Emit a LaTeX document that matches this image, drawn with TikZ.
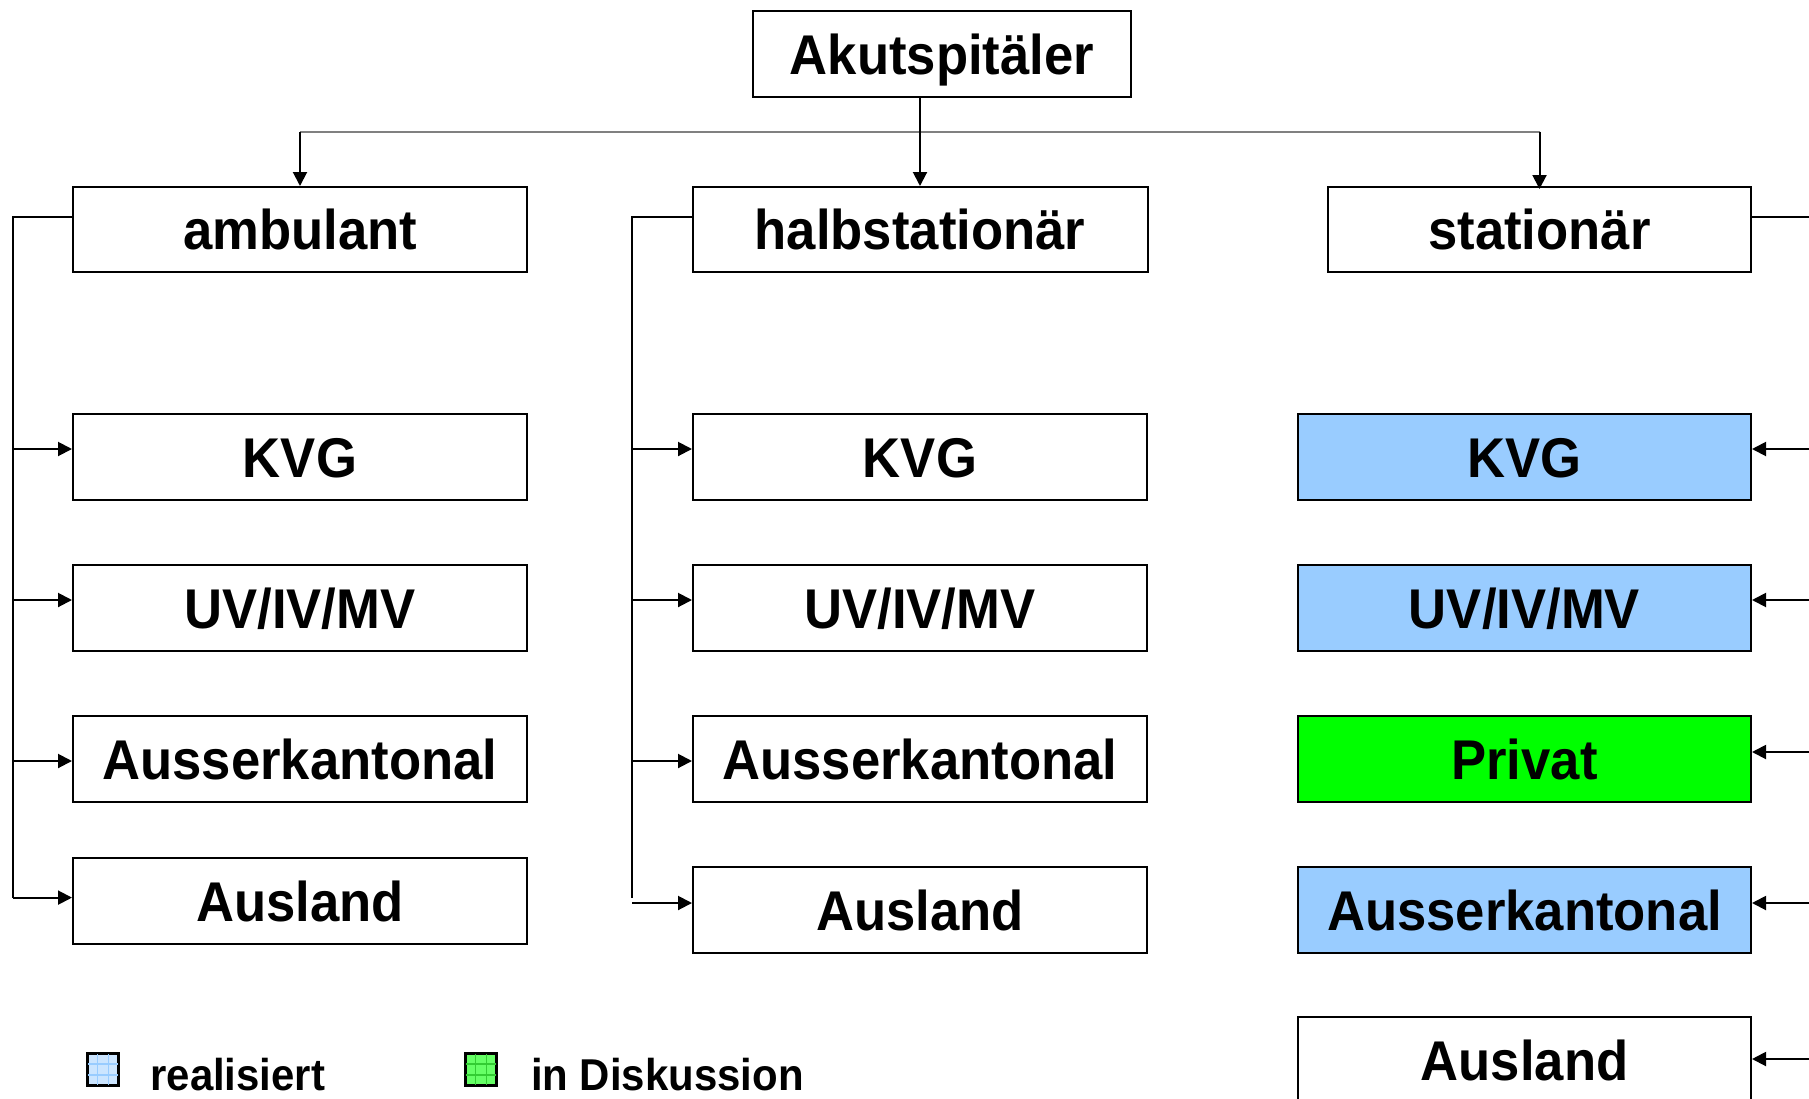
\documentclass[tikz,border=0pt]{standalone}
\usepackage{fontspec}
\newfontfamily\boxfont{Liberation Sans}[FakeStretch=0.94]
\usetikzlibrary{arrows.meta,calc}
\definecolor{realblue}{HTML}{99CCFF}
\definecolor{diskgreen}{HTML}{00FF00}
\definecolor{legblue}{HTML}{CCE5FF}
\definecolor{leggreen}{HTML}{66FF66}
\definecolor{leggreenline}{HTML}{33CC33}
\definecolor{busgray}{HTML}{808080}
\begin{document}
\begin{tikzpicture}[x=0.5pt,y=-0.5pt,
  box/.style={draw=black, line width=1pt, inner sep=0pt, fill=white,
    font=\boxfont\bfseries\fontsize{28}{30}\selectfont,
    text height=20pt, text depth=0pt, align=center},
  headbox/.style={box, minimum height=42.5pt},
  subbox/.style={box, minimum width=227pt, minimum height=43pt},
  statbox/.style={box, minimum width=226.5pt, minimum height=43pt},
  conn/.style={line width=1pt, draw=black},
  arr/.style={conn, -{Triangle[length=7pt,width=7pt]}},
  busline/.style={line width=1pt, draw=busgray},
  legsq/.style={draw=black, line width=1pt, inner sep=0pt, minimum width=15pt, minimum height=15.5pt},
  legtext/.style={inner sep=0pt, font=\boxfont\bfseries\fontsize{22.3}{24}\selectfont}
]
\useasboundingbox (0,0) rectangle (1809,1098);
\clip (0,0) rectangle (1809,1098);

% header boxes
\node[box, minimum width=189pt, minimum height=43pt] (top) at (942,54) {Akutspitäler};
\node[headbox, minimum width=227pt] (amb) at (300,229.5) {ambulant};
\node[headbox, minimum width=227.5pt] (halb) at (920,229.5) {halbstationär};
\node[headbox, minimum width=211.5pt] (stat) at (1539.5,229.5) {stationär};

% ambulant column
\node[subbox] (akvg) at (300,457) {KVG};
\node[subbox] (auv)  at (300,608) {UV/IV/MV};
\node[subbox] (aak)  at (300,759) {Ausserkantonal};
\node[subbox] (aaus) at (300,901) {Ausland};

% halbstationaer column
\node[subbox] (hkvg) at (920,457) {KVG};
\node[subbox] (huv)  at (920,608) {UV/IV/MV};
\node[subbox] (hak)  at (920,759) {Ausserkantonal};
\node[subbox] (haus) at (920,910) {Ausland};

% stationaer column
\node[statbox, fill=realblue] (skvg) at (1524.5,457) {KVG};
\node[statbox, fill=realblue] (suv)  at (1524.5,608) {UV/IV/MV};
\node[statbox, fill=diskgreen] (spriv) at (1524.5,759) {Privat};
\node[statbox, fill=realblue] (sak)  at (1524.5,910) {Ausserkantonal};
\node[statbox] (saus) at (1524.5,1060) {Ausland};

% top distribution
\coordinate (bus) at (0,131.5);
\draw[busline] (amb.north |- bus) -- (stat.north |- bus);
\draw[arr] (amb.north |- bus) -- (amb.north);
\draw[arr] (stat.north |- bus) -- ([yshift=-1.5pt]stat.north);
\draw[arr] (halb.north |- top.south) -- (halb.north);

% left bracket (ambulant)
\coordinate (la) at (12.7,217);
\draw[conn] (amb.west |- la) -- (la) -- (la |- 0,897.6);
\draw[arr] (la |- 0,449) -- (akvg.west |- 0,449);
\draw[arr] (la |- 0,600) -- (auv.west |- 0,600);
\draw[arr] (la |- 0,761) -- (aak.west |- 0,761);
\draw[arr] (la |- 0,897.6) -- (aaus.west |- 0,897.6);

% bracket (halbstationaer)
\coordinate (lb) at (632,217);
\draw[conn] (halb.west |- lb) -- (lb) -- (lb |- 0,898);
\draw[arr] (lb |- 0,449) -- (hkvg.west |- 0,449);
\draw[arr] (lb |- 0,600) -- (huv.west |- 0,600);
\draw[arr] (lb |- 0,761) -- (hak.west |- 0,761);
\draw[arr] (lb |- 0,903) -- (haus.west |- 0,903);

% right rail (stationaer)
\coordinate (rr) at (1814,217);
\draw[conn] (stat.east |- rr) -- (rr) -- (rr |- 0,1059);
\draw[arr] (rr |- 0,449) -- (skvg.east |- 0,449);
\draw[arr] (rr |- 0,600) -- (suv.east |- 0,600);
\draw[arr] (rr |- 0,752) -- (spriv.east |- 0,752);
\draw[arr] (rr |- 0,903) -- (sak.east |- 0,903);
\draw[arr] (rr |- 0,1059) -- (saus.east |- 0,1059);

% legend
\node[legsq, fill=legblue] (lsq1) at (103,1069.5) {};
\foreach \f in {1,2}{
  \draw[realblue, line width=0.6pt] ($(lsq1.north west)!\f/3!(lsq1.north east)$) -- ($(lsq1.south west)!\f/3!(lsq1.south east)$);
  \draw[realblue, line width=0.6pt] ($(lsq1.north west)!\f/3!(lsq1.south west)$) -- ($(lsq1.north east)!\f/3!(lsq1.south east)$);
}
\draw[black, line width=1pt] (lsq1.north west) rectangle (lsq1.south east);
\node[legtext, anchor=base west] (ltx1) at (150,1090) {realisiert};

\node[legsq, fill=leggreen] (lsq2) at (481,1069.5) {};
\foreach \f in {1,2}{
  \draw[leggreenline, line width=0.6pt] ($(lsq2.north west)!\f/3!(lsq2.north east)$) -- ($(lsq2.south west)!\f/3!(lsq2.south east)$);
  \draw[leggreenline, line width=0.6pt] ($(lsq2.north west)!\f/3!(lsq2.south west)$) -- ($(lsq2.north east)!\f/3!(lsq2.south east)$);
}
\draw[black, line width=1pt] (lsq2.north west) rectangle (lsq2.south east);
\node[legtext, anchor=base west] (ltx2) at (530.7,1090) {in Diskussion};
\end{tikzpicture}
\end{document}
